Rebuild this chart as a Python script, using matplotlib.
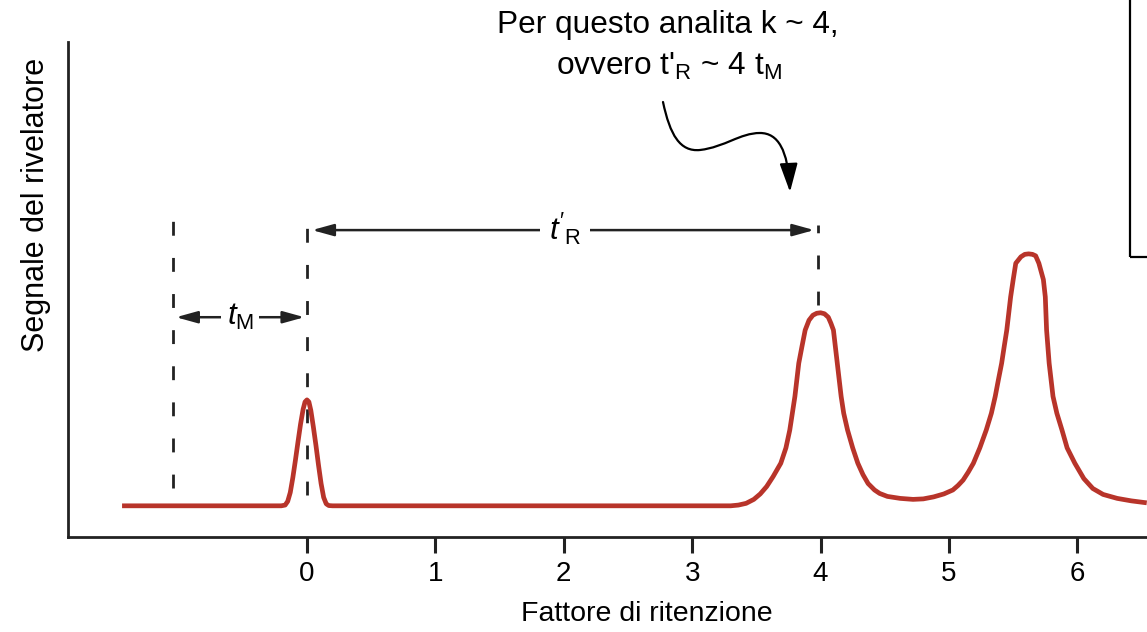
import matplotlib
matplotlib.use("Agg")
import matplotlib.pyplot as plt
from matplotlib.patches import FancyArrowPatch, Rectangle
from matplotlib.path import Path

plt.rcParams['font.family'] = ['Liberation Sans', 'DejaVu Sans']
plt.rcParams['mathtext.fontset'] = 'custom'
plt.rcParams['mathtext.rm'] = 'Liberation Sans'
plt.rcParams['mathtext.it'] = 'Liberation Sans:italic'
plt.rcParams['mathtext.bf'] = 'Liberation Sans:bold'

# chromatogram (x = retention factor, y = detector signal, a.u.)
k_vals = [-1.44, -0.20, -0.17, -0.15, -0.13, -0.11, -0.09, -0.07, -0.05, -0.03,
          -0.015, 0.00, 0.015, 0.03, 0.05, 0.07, 0.09, 0.11, 0.13, 0.15, 0.17,
          0.20,
          3.30, 3.36, 3.42, 3.48, 3.53, 3.58, 3.63, 3.69, 3.73, 3.76, 3.78, 3.80,
          3.83, 3.855, 3.88, 3.91, 3.94, 3.97, 4.00, 4.03, 4.06, 4.08, 4.10, 4.13,
          4.16, 4.18, 4.21, 4.25, 4.29, 4.33, 4.37, 4.42, 4.46, 4.52, 4.62, 4.72,
          4.80, 4.88, 4.96, 5.03, 5.07, 5.11, 5.15, 5.19, 5.24, 5.29, 5.33, 5.36,
          5.385, 5.41, 5.43, 5.45, 5.48, 5.50, 5.52, 5.56, 5.59, 5.62, 5.65, 5.675,
          5.70, 5.735, 5.75, 5.76, 5.78, 5.81, 5.84, 5.88, 5.92, 5.98, 6.05, 6.12,
          6.20, 6.31, 6.42, 6.54]
signal = [0.63, 0.63, 0.645, 0.72, 0.90, 1.20, 1.55, 1.92, 2.28, 2.58,
          2.73, 2.77, 2.73, 2.56, 2.22, 1.85, 1.45, 1.08, 0.80, 0.67, 0.635,
          0.63,
          0.63, 0.645, 0.68, 0.76, 0.87, 1.02, 1.22, 1.49, 1.80, 2.16, 2.50, 2.84,
          3.51, 3.85, 4.18, 4.38, 4.48, 4.52, 4.53, 4.51, 4.44, 4.32, 4.18, 3.51,
          2.84, 2.50, 2.16, 1.80, 1.49, 1.26, 1.08, 0.95, 0.88, 0.82, 0.78, 0.76,
          0.77, 0.81, 0.87, 0.95, 1.04, 1.15, 1.31, 1.49, 1.80, 2.16, 2.50, 2.84,
          3.18, 3.51, 3.85, 4.18, 4.85, 5.20, 5.53, 5.66, 5.71, 5.72, 5.71, 5.68,
          5.53, 5.20, 4.85, 4.18, 3.51, 2.84, 2.50, 2.16, 1.80, 1.49, 1.18, 0.98,
          0.86, 0.78, 0.73, 0.69]

ticks = [0, 1, 2, 3, 4, 5, 6]
t_start = -1.04     # injection
t_m = 0.0           # dead time
t_r = 3.98          # analyte

W, H = 1147, 632
fig = plt.figure(figsize=(W / 100, H / 100), dpi=100)
ax = fig.add_axes([68 / W, 1 - 537 / H, 1 - 68 / W, (537 - 42) / H])

ax.plot(k_vals, signal, color='#b8342a', lw=3.4, solid_joinstyle='round',
        solid_capstyle='butt', zorder=5)

ax.set_xlim(-1.861, 6.542)
ax.set_ylim(0, 10)
ax.set_xticks(ticks)
ax.set_xticklabels([str(t) for t in ticks])
ax.set_yticks([])
ax.tick_params(axis='x', direction='out', length=11.5, width=2.2, color='#222222',
               labelsize=20, pad=6)
for s in ['top', 'right']:
    ax.spines[s].set_visible(False)
for s in ['left', 'bottom']:
    ax.spines[s].set_linewidth(2)
    ax.spines[s].set_color('#222222')

# dashed markers
dash = (0, (5, 8))
ax.plot([t_start, t_start], [1.0, 6.46], color='#222222', lw=2, linestyle=dash)
ax.plot([t_m, t_m], [0.85, 6.46], color='#222222', lw=2, linestyle=dash)
ax.plot([t_r, t_r], [4.69, 6.30], color='#222222', lw=2, linestyle=dash)

# double arrows with labels
arr = dict(arrowstyle='<|-|>,head_length=0.65,head_width=0.18', color='#222222',
           lw=1.8, shrinkA=0, shrinkB=0, mutation_scale=20)
ax.annotate('', xy=(t_start + 0.02, 4.44), xytext=(t_m - 0.02, 4.44), arrowprops=arr)
ax.annotate('', xy=(t_m + 0.04, 6.20), xytext=(t_r - 0.03, 6.20), arrowprops=arr)
ax.text(-0.52, 4.44, r'$t_\mathrm{M}$', fontsize=22.5, ha='center', va='center',
        bbox=dict(facecolor='white', edgecolor='none', pad=4))
ax.text(2.01, 6.22, r"$t'_\mathrm{R}$", fontsize=22.5, ha='center', va='center',
        bbox=dict(facecolor='white', edgecolor='none', pad=6))

# axis labels
fig.text(647 / W, 1 - 614 / H, 'Fattore di ritenzione', fontsize=20.5,
         ha='center', va='center')
fig.text(36 / W, 1 - 205 / H, 'Segnale del rivelatore', fontsize=22,
         rotation=90, ha='center', va='center')

# note at top
fig.text(668 / W, 1 - 33 / H, 'Per questo analita k ~ 4,', fontsize=22.8,
         ha='center', va='baseline')
fig.text(669 / W, 1 - 75 / H, r"ovvero t'$_\mathrm{R}$ ~ 4 t$_\mathrm{M}$",
         fontsize=22.8, ha='center', va='baseline')


def px(x, y):
    return (x / W, 1 - y / H)


verts = [px(663, 102), px(670, 135), px(680, 152), px(700, 150),
         px(725, 147), px(740, 133), px(760, 133),
         px(778, 133), px(788, 150), px(790, 192)]
codes = [Path.MOVETO] + [Path.CURVE4] * 9
wave = FancyArrowPatch(path=Path(verts, codes), transform=fig.transFigure,
                       arrowstyle='-|>,head_length=0.7,head_width=0.22',
                       mutation_scale=25, color='black', lw=1.6)
fig.patches.append(wave)

# box cut off at top right
fig.patches.append(Rectangle(px(1130, 257), 0.2, 0.6, fill=False, lw=1.6,
                             edgecolor='black', transform=fig.transFigure))

fig.savefig('out.png', dpi=100)
